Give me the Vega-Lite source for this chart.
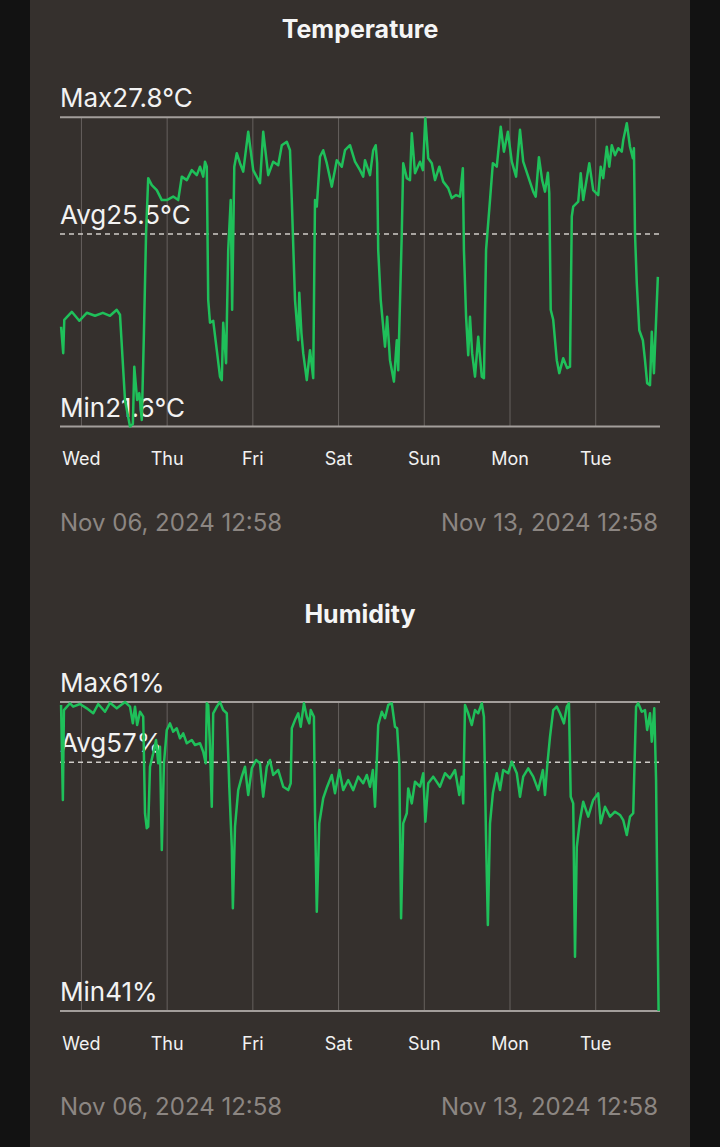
{
  "$schema": "https://vega.github.io/schema/vega-lite/v6.json",
  "background": "#121212",
  "padding": {"left": 30, "right": 30, "top": 0, "bottom": 0},
  "spacing": 0,
  "config": {"view": {"stroke": null, "fill": "#35302d"}, "font": "Inter"},
  "datasets": {
    "temperature": [
      {"h":0.3,"t":23.60},{"h":0.9,"t":23.07},{"h":1.2,"t":23.74},{"h":3.3,"t":23.90},{"h":5.4,"t":23.72},{"h":7.5,"t":23.88},{"h":9.8,"t":23.82},{"h":12.0,"t":23.88},{"h":14.0,"t":23.82},{"h":15.9,"t":23.94},{"h":16.8,"t":23.84},{"h":18.2,"t":22.13},{"h":19.6,"t":21.60},{"h":20.4,"t":21.65},{"h":20.8,"t":22.80},{"h":21.6,"t":22.13},{"h":22.2,"t":22.27},{"h":22.9,"t":21.73},{"h":23.5,"t":23.47},{"h":24.1,"t":25.48},{"h":24.7,"t":26.58},{"h":25.7,"t":26.44},{"h":27.1,"t":26.34},{"h":28.5,"t":26.14},{"h":29.9,"t":26.14},{"h":31.7,"t":26.21},{"h":33.1,"t":26.14},{"h":34.1,"t":26.61},{"h":35.5,"t":26.54},{"h":36.9,"t":26.74},{"h":38.3,"t":26.64},{"h":39.2,"t":26.81},{"h":40.1,"t":26.61},{"h":40.6,"t":26.91},{"h":41.1,"t":26.81},{"h":41.5,"t":24.14},{"h":42.0,"t":23.68},{"h":42.9,"t":23.72},{"h":43.9,"t":23.13},{"h":44.8,"t":22.60},{"h":45.3,"t":22.53},{"h":45.7,"t":23.68},{"h":46.5,"t":22.87},{"h":47.1,"t":25.14},{"h":47.8,"t":26.14},{"h":48.2,"t":23.94},{"h":48.8,"t":26.81},{"h":49.5,"t":27.08},{"h":50.4,"t":26.88},{"h":51.3,"t":26.71},{"h":52.7,"t":27.51},{"h":54.1,"t":26.74},{"h":56.0,"t":26.48},{"h":56.9,"t":27.51},{"h":58.3,"t":26.64},{"h":59.7,"t":26.91},{"h":61.1,"t":26.84},{"h":62.1,"t":27.24},{"h":63.5,"t":27.31},{"h":64.4,"t":27.14},{"h":64.9,"t":26.14},{"h":65.8,"t":24.14},{"h":66.7,"t":23.33},{"h":67.0,"t":24.28},{"h":67.6,"t":23.47},{"h":68.1,"t":23.07},{"h":69.1,"t":22.53},{"h":70.0,"t":23.13},{"h":70.9,"t":22.57},{"h":71.4,"t":26.14},{"h":71.9,"t":26.01},{"h":72.8,"t":27.01},{"h":73.7,"t":27.14},{"h":74.7,"t":26.88},{"h":76.1,"t":26.41},{"h":77.5,"t":26.94},{"h":78.9,"t":26.81},{"h":79.8,"t":27.14},{"h":81.2,"t":27.24},{"h":82.6,"t":26.91},{"h":84.0,"t":26.74},{"h":84.9,"t":26.61},{"h":85.4,"t":26.94},{"h":86.8,"t":26.64},{"h":87.7,"t":27.14},{"h":88.4,"t":27.24},{"h":88.8,"t":26.88},{"h":89.1,"t":25.14},{"h":89.8,"t":24.14},{"h":91.0,"t":23.20},{"h":91.6,"t":23.80},{"h":92.4,"t":22.93},{"h":93.5,"t":22.50},{"h":94.3,"t":23.33},{"h":94.7,"t":22.73},{"h":95.7,"t":25.48},{"h":96.1,"t":26.88},{"h":97.1,"t":26.58},{"h":98.0,"t":26.54},{"h":98.5,"t":27.48},{"h":99.4,"t":26.68},{"h":100.8,"t":26.91},{"h":101.6,"t":26.74},{"h":102.3,"t":27.78},{"h":103.1,"t":26.98},{"h":104.1,"t":26.88},{"h":105.0,"t":26.54},{"h":106.2,"t":26.81},{"h":107.3,"t":26.51},{"h":108.7,"t":26.38},{"h":109.7,"t":26.18},{"h":110.9,"t":26.24},{"h":112.0,"t":26.21},{"h":112.8,"t":26.78},{"h":113.1,"t":25.14},{"h":113.7,"t":23.80},{"h":114.3,"t":23.03},{"h":114.8,"t":23.80},{"h":115.4,"t":23.07},{"h":116.2,"t":22.60},{"h":117.1,"t":23.40},{"h":118.1,"t":22.60},{"h":118.7,"t":22.57},{"h":119.3,"t":25.14},{"h":120.4,"t":26.14},{"h":121.2,"t":26.88},{"h":122.3,"t":26.81},{"h":123.4,"t":27.61},{"h":124.3,"t":27.11},{"h":125.4,"t":27.51},{"h":126.5,"t":26.91},{"h":127.7,"t":26.61},{"h":128.8,"t":27.55},{"h":129.7,"t":26.91},{"h":131.1,"t":26.61},{"h":132.5,"t":26.31},{"h":133.2,"t":26.21},{"h":134.1,"t":27.00},{"h":135.0,"t":26.54},{"h":135.8,"t":26.31},{"h":136.6,"t":26.69},{"h":137.0,"t":26.28},{"h":137.4,"t":23.94},{"h":138.1,"t":23.74},{"h":139.1,"t":22.93},{"h":139.8,"t":22.67},{"h":140.9,"t":22.97},{"h":142.0,"t":22.77},{"h":142.8,"t":22.80},{"h":143.3,"t":25.81},{"h":143.7,"t":26.01},{"h":145.1,"t":26.11},{"h":145.8,"t":26.68},{"h":146.5,"t":26.14},{"h":148.2,"t":26.88},{"h":149.3,"t":26.34},{"h":150.7,"t":26.24},{"h":151.4,"t":26.81},{"h":152.1,"t":26.58},{"h":153.1,"t":27.21},{"h":153.8,"t":26.81},{"h":154.5,"t":27.24},{"h":155.4,"t":27.04},{"h":156.3,"t":27.18},{"h":157.3,"t":27.11},{"h":157.7,"t":27.34},{"h":158.7,"t":27.68},{"h":159.6,"t":27.21},{"h":160.4,"t":26.98},{"h":160.7,"t":27.18},{"h":161.0,"t":25.47},{"h":161.5,"t":24.47},{"h":162.2,"t":23.53},{"h":163.2,"t":23.33},{"h":163.8,"t":22.93},{"h":164.4,"t":22.47},{"h":165.2,"t":22.43},{"h":165.7,"t":23.50},{"h":166.3,"t":22.67},{"h":167.4,"t":24.60}
    ],
    "humidity": [
      {"h":0.3,"rh":60.81},{"h":0.8,"rh":54.66},{"h":1.1,"rh":60.48},{"h":2.8,"rh":60.92},{"h":3.7,"rh":60.70},{"h":5.6,"rh":60.87},{"h":7.5,"rh":60.59},{"h":9.3,"rh":60.27},{"h":10.7,"rh":60.87},{"h":12.6,"rh":60.37},{"h":14.0,"rh":60.95},{"h":15.9,"rh":60.59},{"h":18.2,"rh":61.0},{"h":19.6,"rh":60.70},{"h":20.4,"rh":59.62},{"h":21.0,"rh":60.70},{"h":21.6,"rh":59.51},{"h":22.4,"rh":60.37},{"h":23.3,"rh":60.05},{"h":23.8,"rh":53.80},{"h":24.3,"rh":52.83},{"h":24.7,"rh":52.93},{"h":25.2,"rh":56.81},{"h":26.1,"rh":57.68},{"h":26.9,"rh":58.54},{"h":27.5,"rh":57.03},{"h":28.0,"rh":58.11},{"h":28.5,"rh":51.42},{"h":29.1,"rh":57.03},{"h":29.9,"rh":59.19},{"h":30.8,"rh":59.62},{"h":31.7,"rh":59.08},{"h":32.7,"rh":59.30},{"h":33.6,"rh":58.65},{"h":34.5,"rh":58.97},{"h":35.5,"rh":58.33},{"h":36.9,"rh":58.54},{"h":37.8,"rh":58.22},{"h":39.2,"rh":58.33},{"h":40.1,"rh":57.78},{"h":40.8,"rh":57.03},{"h":41.1,"rh":60.92},{"h":41.5,"rh":60.81},{"h":42.0,"rh":58.11},{"h":42.5,"rh":54.22},{"h":42.9,"rh":60.27},{"h":43.9,"rh":60.70},{"h":44.8,"rh":61.0},{"h":45.7,"rh":60.48},{"h":46.7,"rh":60.27},{"h":47.4,"rh":55.52},{"h":48.1,"rh":51.63},{"h":48.4,"rh":47.65},{"h":49.0,"rh":52.93},{"h":49.9,"rh":55.30},{"h":50.9,"rh":56.17},{"h":51.8,"rh":56.81},{"h":52.7,"rh":54.98},{"h":53.7,"rh":56.71},{"h":54.9,"rh":57.25},{"h":56.0,"rh":57.03},{"h":56.9,"rh":54.87},{"h":57.9,"rh":56.81},{"h":58.8,"rh":57.25},{"h":59.7,"rh":56.28},{"h":61.1,"rh":56.60},{"h":62.5,"rh":55.52},{"h":63.9,"rh":55.30},{"h":64.6,"rh":55.74},{"h":64.9,"rh":59.30},{"h":65.8,"rh":59.83},{"h":66.7,"rh":60.27},{"h":67.4,"rh":59.40},{"h":68.3,"rh":60.92},{"h":69.1,"rh":60.05},{"h":69.8,"rh":59.62},{"h":70.2,"rh":60.48},{"h":71.1,"rh":60.05},{"h":71.4,"rh":53.80},{"h":71.9,"rh":47.43},{"h":72.6,"rh":53.15},{"h":73.7,"rh":54.77},{"h":74.8,"rh":55.52},{"h":76.1,"rh":56.28},{"h":77.0,"rh":55.09},{"h":78.2,"rh":56.60},{"h":79.3,"rh":55.30},{"h":80.7,"rh":55.95},{"h":82.1,"rh":55.30},{"h":83.5,"rh":56.17},{"h":84.9,"rh":55.74},{"h":85.9,"rh":56.28},{"h":86.8,"rh":55.52},{"h":87.6,"rh":56.60},{"h":88.2,"rh":54.22},{"h":89.1,"rh":59.51},{"h":90.1,"rh":60.37},{"h":91.0,"rh":59.95},{"h":91.9,"rh":60.81},{"h":92.9,"rh":60.92},{"h":93.8,"rh":59.40},{"h":94.4,"rh":59.30},{"h":95.0,"rh":57.03},{"h":95.5,"rh":47.00},{"h":96.1,"rh":53.15},{"h":97.1,"rh":53.80},{"h":97.5,"rh":55.41},{"h":98.5,"rh":54.44},{"h":99.4,"rh":55.84},{"h":100.8,"rh":55.52},{"h":101.7,"rh":56.39},{"h":102.3,"rh":53.25},{"h":103.1,"rh":55.74},{"h":104.5,"rh":56.17},{"h":106.4,"rh":55.52},{"h":107.8,"rh":56.39},{"h":109.2,"rh":56.06},{"h":110.6,"rh":56.60},{"h":111.8,"rh":54.98},{"h":112.5,"rh":56.17},{"h":112.9,"rh":54.44},{"h":113.4,"rh":60.81},{"h":114.3,"rh":60.27},{"h":115.3,"rh":59.51},{"h":116.2,"rh":60.48},{"h":117.1,"rh":60.27},{"h":118.1,"rh":60.92},{"h":118.7,"rh":60.05},{"h":119.3,"rh":52.07},{"h":119.8,"rh":46.57},{"h":120.4,"rh":53.15},{"h":121.2,"rh":55.09},{"h":122.3,"rh":56.39},{"h":123.2,"rh":55.30},{"h":124.1,"rh":56.60},{"h":125.5,"rh":56.39},{"h":126.5,"rh":57.14},{"h":127.9,"rh":56.39},{"h":128.8,"rh":54.87},{"h":129.7,"rh":56.17},{"h":131.1,"rh":56.71},{"h":132.5,"rh":56.17},{"h":133.9,"rh":55.30},{"h":135.2,"rh":56.60},{"h":135.8,"rh":54.98},{"h":136.4,"rh":56.81},{"h":137.2,"rh":58.75},{"h":138.1,"rh":60.48},{"h":139.1,"rh":60.70},{"h":140.0,"rh":60.27},{"h":141.1,"rh":59.62},{"h":141.9,"rh":60.70},{"h":142.5,"rh":60.92},{"h":143.0,"rh":54.87},{"h":143.7,"rh":54.44},{"h":144.2,"rh":44.51},{"h":144.7,"rh":51.63},{"h":145.6,"rh":53.36},{"h":146.5,"rh":54.55},{"h":147.9,"rh":53.58},{"h":149.3,"rh":54.66},{"h":150.7,"rh":55.09},{"h":151.4,"rh":53.15},{"h":152.6,"rh":54.22},{"h":154.0,"rh":53.58},{"h":155.4,"rh":53.90},{"h":156.8,"rh":53.69},{"h":157.7,"rh":53.36},{"h":158.7,"rh":52.39},{"h":159.6,"rh":53.58},{"h":160.5,"rh":53.80},{"h":161.3,"rh":60.70},{"h":161.9,"rh":60.92},{"h":162.9,"rh":60.37},{"h":163.8,"rh":60.48},{"h":164.4,"rh":59.19},{"h":165.2,"rh":60.27},{"h":165.7,"rh":58.43},{"h":166.4,"rh":60.59},{"h":166.9,"rh":55.95},{"h":167.6,"rh":41.0}
    ],
    "days": [{"day":"Wed","h":6},{"day":"Thu","h":30},{"day":"Fri","h":54},{"day":"Sat","h":78},{"day":"Sun","h":102},{"day":"Mon","h":126},{"day":"Tue","h":150}],
    "tempStats": [{"stat":"Max","value":27.8,"label":"Max27.8°C"},{"stat":"Avg","value":25.46,"label":"Avg25.5°C"},{"stat":"Min","value":21.6,"label":"Min21.6°C"}],
    "humStats": [{"stat":"Max","value":61,"label":"Max61%"},{"stat":"Avg","value":57.1,"label":"Avg57%"},{"stat":"Min","value":41,"label":"Min41%"}],
    "range": [{"h":0,"label":"Nov 06, 2024 12:58"},{"h":168,"label":"Nov 13, 2024 12:58"}]
  },
  "vconcat": [
    {
      "width": 660,
      "height": 585,
      "layer": [
        {"data": {"name": "days"}, "mark": {"type": "rule", "color": "#66615e", "strokeWidth": 1},
         "encoding": {"x": {"field": "h", "type": "quantitative", "scale": {"domain": [-8.4, 176.4], "nice": false, "zero": false}, "axis": null},
                      "y": {"datum": 21.6, "type": "quantitative", "scale": {"domain": [18.422, 30.152], "nice": false, "zero": false}, "axis": null},
                      "y2": {"datum": 27.8}}},
        {"data": {"name": "days"}, "mark": {"type": "text", "color": "#f2f2f2", "fontSize": 18, "align": "center", "baseline": "alphabetic", "dy": 38.5},
         "encoding": {"x": {"field": "h", "type": "quantitative"}, "y": {"datum": 21.6, "type": "quantitative"}, "text": {"field": "day"}}},
        {"data": {"name": "tempStats"}, "transform": [{"filter": "datum.stat !== 'Avg'"}], "mark": {"type": "rule", "color": "#a39e9b", "strokeWidth": 2},
         "encoding": {"y": {"field": "value", "type": "quantitative"}, "x": {"datum": 0, "type": "quantitative"}, "x2": {"datum": 168}}},
        {"data": {"name": "tempStats"}, "transform": [{"filter": "datum.stat === 'Avg'"}], "mark": {"type": "rule", "color": "#d0ccc8", "strokeWidth": 1.5, "strokeDash": [5, 4]},
         "encoding": {"y": {"field": "value", "type": "quantitative"}, "x": {"datum": 0, "type": "quantitative"}, "x2": {"datum": 168}}},
        {"data": {"name": "tempStats"}, "mark": {"type": "text", "color": "#f2f2f2", "fontSize": 26, "align": "left", "baseline": "alphabetic", "dy": -10},
         "encoding": {"y": {"field": "value", "type": "quantitative"}, "x": {"datum": 0, "type": "quantitative"}, "text": {"field": "label"}}},
        {"data": {"name": "temperature"}, "mark": {"type": "line", "color": "#1fc05a", "strokeWidth": 2.5, "strokeJoin": "round"},
         "encoding": {"x": {"field": "h", "type": "quantitative"}, "y": {"field": "t", "type": "quantitative"}}},
        {"data": {"values": [{"title": "Temperature"}]}, "mark": {"type": "text", "color": "#f5f5f5", "fontSize": 25, "fontWeight": "bold", "align": "center", "baseline": "alphabetic", "dy": -79},
         "encoding": {"x": {"datum": 84, "type": "quantitative"}, "y": {"datum": 27.8, "type": "quantitative"}, "text": {"field": "title"}}},
        {"data": {"name": "range"}, "transform": [{"filter": "datum.h === 0"}], "mark": {"type": "text", "color": "#8c8682", "fontSize": 24, "align": "left", "baseline": "alphabetic", "dy": 104},
         "encoding": {"x": {"field": "h", "type": "quantitative"}, "y": {"datum": 21.6, "type": "quantitative"}, "text": {"field": "label"}}},
        {"data": {"name": "range"}, "transform": [{"filter": "datum.h === 168"}], "mark": {"type": "text", "color": "#8c8682", "fontSize": 24, "align": "right", "baseline": "alphabetic", "dy": 104, "dx": -2},
         "encoding": {"x": {"field": "h", "type": "quantitative"}, "y": {"datum": 21.6, "type": "quantitative"}, "text": {"field": "label"}}}
      ]
    },
    {
      "width": 660,
      "height": 562,
      "layer": [
        {"data": {"name": "days"}, "mark": {"type": "rule", "color": "#66615e", "strokeWidth": 1},
         "encoding": {"x": {"field": "h", "type": "quantitative", "scale": {"domain": [-8.4, 176.4], "nice": false, "zero": false}, "axis": null},
                      "y": {"datum": 41, "type": "quantitative", "scale": {"domain": [32.2, 68.573], "nice": false, "zero": false}, "axis": null},
                      "y2": {"datum": 61}}},
        {"data": {"name": "days"}, "mark": {"type": "text", "color": "#f2f2f2", "fontSize": 18, "align": "center", "baseline": "alphabetic", "dy": 38.5},
         "encoding": {"x": {"field": "h", "type": "quantitative"}, "y": {"datum": 41, "type": "quantitative"}, "text": {"field": "day"}}},
        {"data": {"name": "humStats"}, "transform": [{"filter": "datum.stat !== 'Avg'"}], "mark": {"type": "rule", "color": "#a39e9b", "strokeWidth": 2},
         "encoding": {"y": {"field": "value", "type": "quantitative"}, "x": {"datum": 0, "type": "quantitative"}, "x2": {"datum": 168}}},
        {"data": {"name": "humStats"}, "transform": [{"filter": "datum.stat === 'Avg'"}], "mark": {"type": "rule", "color": "#d0ccc8", "strokeWidth": 1.5, "strokeDash": [5, 4]},
         "encoding": {"y": {"field": "value", "type": "quantitative"}, "x": {"datum": 0, "type": "quantitative"}, "x2": {"datum": 168}}},
        {"data": {"name": "humStats"}, "mark": {"type": "text", "color": "#f2f2f2", "fontSize": 26, "align": "left", "baseline": "alphabetic", "dy": -10},
         "encoding": {"y": {"field": "value", "type": "quantitative"}, "x": {"datum": 0, "type": "quantitative"}, "text": {"field": "label"}}},
        {"data": {"name": "humidity"}, "mark": {"type": "line", "color": "#1fc05a", "strokeWidth": 2.5, "strokeJoin": "round"},
         "encoding": {"x": {"field": "h", "type": "quantitative"}, "y": {"field": "rh", "type": "quantitative"}}},
        {"data": {"values": [{"title": "Humidity"}]}, "mark": {"type": "text", "color": "#f5f5f5", "fontSize": 25, "fontWeight": "bold", "align": "center", "baseline": "alphabetic", "dy": -79},
         "encoding": {"x": {"datum": 84, "type": "quantitative"}, "y": {"datum": 61, "type": "quantitative"}, "text": {"field": "title"}}},
        {"data": {"name": "range"}, "transform": [{"filter": "datum.h === 0"}], "mark": {"type": "text", "color": "#8c8682", "fontSize": 24, "align": "left", "baseline": "alphabetic", "dy": 104},
         "encoding": {"x": {"field": "h", "type": "quantitative"}, "y": {"datum": 41, "type": "quantitative"}, "text": {"field": "label"}}},
        {"data": {"name": "range"}, "transform": [{"filter": "datum.h === 168"}], "mark": {"type": "text", "color": "#8c8682", "fontSize": 24, "align": "right", "baseline": "alphabetic", "dy": 104, "dx": -2},
         "encoding": {"x": {"field": "h", "type": "quantitative"}, "y": {"datum": 41, "type": "quantitative"}, "text": {"field": "label"}}}
      ]
    }
  ]
}
